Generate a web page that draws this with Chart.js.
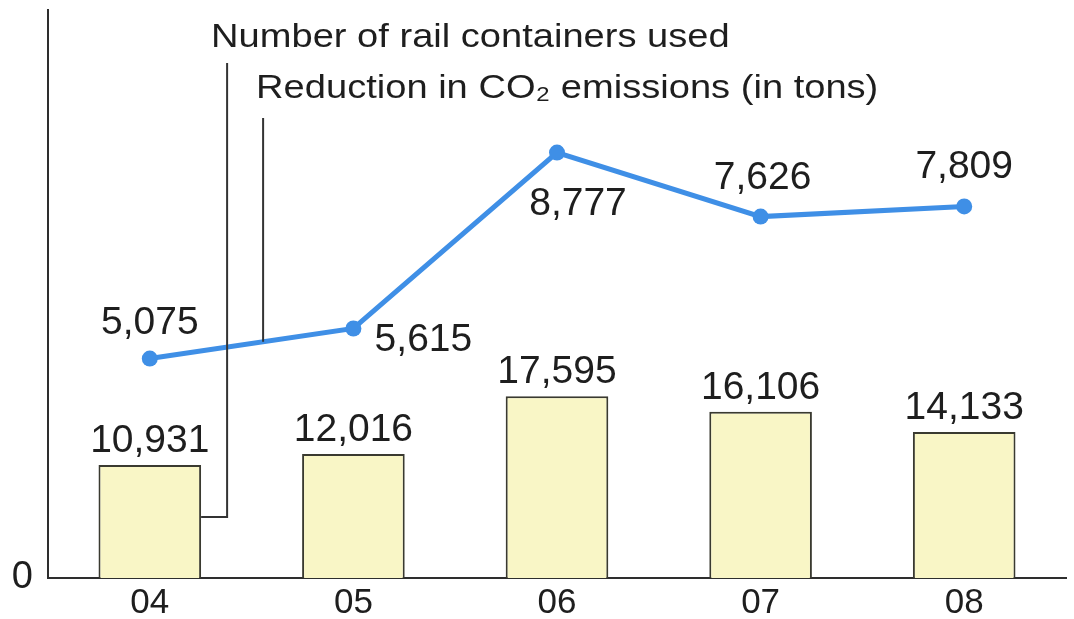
<!DOCTYPE html>
<html>
<head>
<meta charset="utf-8">
<script src="https://cdn.jsdelivr.net/npm/chart.js@4/dist/chart.umd.min.js"></script>
<style>
	body { margin: 0; background: #fff; }
	#wrap { width: 1074px; height: 619px; }
</style>
</head>
<body>
<div id="wrap"><canvas id="chart"></canvas></div>
<script>
// data
const years = ['04', '05', '06', '07', '08'];
const containers = [10931, 12016, 17595, 16106, 14133];
const co2 = [5075, 5615, 8777, 7626, 7809];
const co2LabelOffsets = [[0, -25], [70, 23], [21, 62], [2, -28], [0, -28]]; // label baseline offset per point

const legendContainers = 'Number of rail containers used';
const legendCo2 = 'Reduction in CO\u2082 emissions (in tons)';

const FONT = '"Liberation Sans", Arial, sans-serif';
const INK = '#1e1e1e';

function fmt(v) {
	return v.toLocaleString('en-US');
}

// text is a little wider in the original print
function wideText(ctx, text, x, y, sx) {
	ctx.save();
	ctx.translate(x, y);
	ctx.scale(sx, 1);
	ctx.fillText(text, 0, 0);
	ctx.restore();
}

const labels = {
	id: 'labels',
	afterDatasetsDraw(chart) {
		let ctx = chart.ctx;
		let area = chart.chartArea;
		let bars = chart.getDatasetMeta(0).data;
		let pts = chart.getDatasetMeta(1).data;

		ctx.save();
		ctx.fillStyle = INK;
		ctx.font = '39px ' + FONT;
		ctx.textAlign = 'center';
		ctx.textBaseline = 'alphabetic';

		// values over the bars
		bars.forEach((b, i) => {
			ctx.fillText(fmt(containers[i]), b.x, b.y - 13);
		});

		// values at the line points
		pts.forEach((p, i) => {
			let o = co2LabelOffsets[i];
			ctx.fillText(fmt(co2[i]), p.x + o[0], p.y + o[1]);
		});

		// callout lines to the legend texts
		let b0 = bars[0];
		let half = b0.width / 2;
		let x1 = b0.x + half + 26;
		let x2 = x1 + 36;
		let p0 = pts[0], p1 = pts[1];
		let yOnLine = p0.y + (p1.y - p0.y) * (x2 - p0.x) / (p1.x - p0.x);

		ctx.strokeStyle = '#333';
		ctx.lineWidth = 2;
		ctx.beginPath();
		ctx.moveTo(x1, area.top + 53);
		ctx.lineTo(x1, area.bottom - 61);
		ctx.lineTo(b0.x + half, area.bottom - 61);
		ctx.moveTo(x2, area.top + 108);
		ctx.lineTo(x2, yOnLine);
		ctx.stroke();

		ctx.font = '34px ' + FONT;
		ctx.textAlign = 'left';
		wideText(ctx, legendContainers, x1 - 16, area.top + 37, 1.12);
		wideText(ctx, legendCo2, x2 - 7, area.top + 88, 1.12);
		ctx.restore();
	}
};

new Chart(document.getElementById('chart'), {
	data: {
		labels: years,
		datasets: [
			{
				type: 'bar',
				label: legendContainers,
				data: containers,
				yAxisID: 'y',
				backgroundColor: '#f9f6c6',
				borderColor: '#3a3a30',
				borderWidth: 2,
				categoryPercentage: 1,
				barPercentage: 0.504,
				order: 2,
			},
			{
				type: 'line',
				label: legendCo2,
				data: co2,
				yAxisID: 'y1',
				borderColor: '#3f8fe6',
				backgroundColor: '#3f8fe6',
				borderWidth: 5,
				pointRadius: 8,
				pointBorderWidth: 0,
				tension: 0,
				order: 1,
			},
		]
	},
	options: {
		responsive: true,
		maintainAspectRatio: false,
		animation: false,
		events: [],
		layout: { padding: { top: 10, right: 4, left: 0, bottom: 0 } },
		plugins: {
			legend: { display: false },
			tooltip: { enabled: false },
		},
		scales: {
			x: {
				grid: { display: false, drawTicks: false },
				border: { color: '#2e2e2e', width: 2 },
				ticks: { color: INK, font: { size: 35, family: FONT }, padding: 4 },
				afterFit: s => { s.height = 41; },
			},
			y: {
				min: 0,
				max: 55000,
				grid: { display: false, drawTicks: false },
				border: { color: '#2e2e2e', width: 2 },
				ticks: {
					color: INK,
					font: { size: 38, family: FONT },
					padding: 15,
				},
				afterBuildTicks: s => { s.ticks = [{ value: 0 }]; },
				afterFit: s => {
					s.width = 48;
					s.paddingTop = 0;
					s.paddingBottom = 0;
				},
			},
			y1: {
				display: false,
				min: 1130,
				max: 11340,
			},
		}
	},
	plugins: [labels]
});
</script>
</body>
</html>
